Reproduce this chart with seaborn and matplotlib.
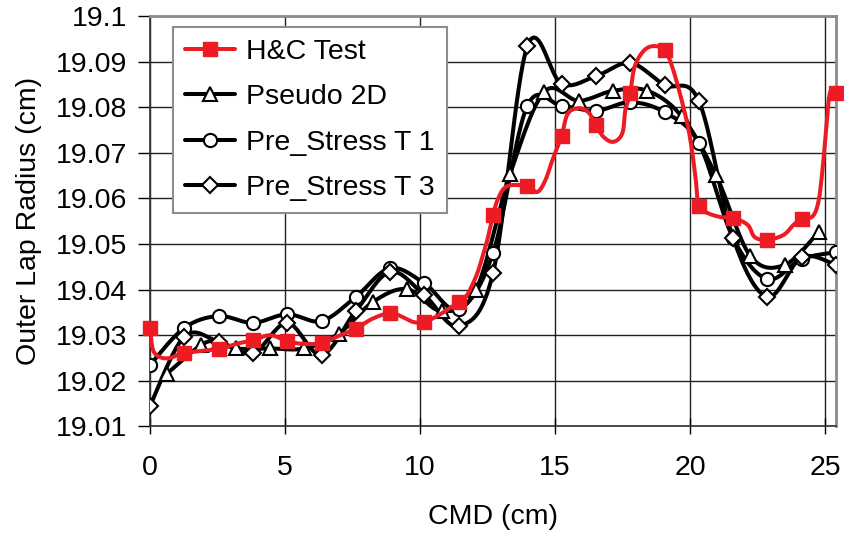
import numpy as np
import pandas as pd
import matplotlib
matplotlib.use("Agg")
import matplotlib.pyplot as plt
import seaborn as sns
from matplotlib.lines import Line2D

# ---------------- data ----------------
# H&C Test markers (every 1.27 cm)
hc_x = [0.0, 1.27, 2.54, 3.81, 5.08, 6.35, 7.62, 8.89, 10.16, 11.43, 12.70,
        13.97, 15.24, 16.51, 17.78, 19.05, 20.32, 21.59, 22.86, 24.13, 25.40]
hc_y = [19.0316, 19.0261, 19.0270, 19.0289, 19.0287, 19.0283, 19.0314, 19.0349,
        19.0329, 19.0373, 19.0563, 19.0627, 19.0737, 19.0761, 19.0831, 19.0925,
        19.0583, 19.0557, 19.0509, 19.0555, 19.0831]

# H&C Test measured trace (the red curve)
hc_line_x = [0.0, 0.11, 0.37, 0.74, 1.27, 2.54, 3.19, 3.81, 4.45, 5.08, 5.67,
             6.35, 6.97, 7.62, 8.23, 8.89, 9.27, 9.75, 10.16, 10.75, 11.43,
             11.71, 11.90, 12.12, 12.31, 12.49, 12.70, 12.90, 13.23, 13.97,
             14.34, 14.64, 14.90, 15.24, 15.46, 15.86, 16.23, 16.51, 16.79,
             17.16, 17.49, 17.60, 17.78, 17.94, 18.27, 18.64, 19.05, 19.35,
             19.76, 20.01, 20.20, 20.32, 20.64, 21.13, 21.59, 22.13, 22.39,
             22.86, 23.46, 23.83, 24.13, 24.54, 24.76, 24.91, 25.02, 25.13,
             25.24, 25.40]
hc_line_y = [19.0316, 19.0268, 19.0252, 19.0250, 19.0261, 19.0270, 19.0281,
             19.0289, 19.0300, 19.0287, 19.0281, 19.0283, 19.0298, 19.0314,
             19.0336, 19.0349, 19.0342, 19.0329, 19.0329, 19.0346, 19.0373,
             19.0386, 19.0406, 19.0436, 19.0472, 19.0509, 19.0563, 19.0601,
             19.0627, 19.0627, 19.0614, 19.0640, 19.0684, 19.0737, 19.0785,
             19.0798, 19.0789, 19.0761, 19.0735, 19.0724, 19.0743, 19.0794,
             19.0831, 19.0888, 19.0923, 19.0934, 19.0925, 19.0886, 19.0798,
             19.0728, 19.0645, 19.0583, 19.0568, 19.0559, 19.0557, 19.0542,
             19.0515, 19.0509, 19.0520, 19.0542, 19.0555, 19.0561, 19.0596,
             19.0669, 19.0743, 19.0816, 19.0838, 19.0831]

# Pseudo 2D
p2d_x = [0.635, 1.905, 2.54, 3.175, 4.445, 5.715, 6.985, 8.255, 9.525, 10.795,
         12.065, 13.335, 14.605, 15.875, 17.145, 18.415, 19.685, 20.955,
         22.225, 23.495, 24.765]
p2d_y = [19.0216, 19.0279, 19.0286, 19.0271, 19.0271, 19.0271, 19.0303,
         19.0373, 19.0401, 19.0353, 19.0399, 19.0654, 19.0834, 19.0814,
         19.0836, 19.0836, 19.0780, 19.0651, 19.0474, 19.0454, 19.0527]

# Pre_Stress T 1
t1_x = hc_x
t1_y = [19.0235, 19.0316, 19.0342, 19.0327, 19.0346, 19.0331, 19.0384,
        19.0447, 19.0414, 19.0357, 19.0480, 19.0803, 19.0803, 19.0792,
        19.0811, 19.0789, 19.0721, 19.0513, 19.0423, 19.0467, 19.0482]

# Pre_Stress T 3
t3_x = hc_x
t3_y = [19.0145, 19.0297, 19.0286, 19.0261, 19.0327, 19.0257, 19.0353,
        19.0439, 19.0388, 19.0320, 19.0436, 19.0934, 19.0851, 19.0868,
        19.0897, 19.0849, 19.0814, 19.0513, 19.0384, 19.0471, 19.0454]

labels = ["H&C Test", "Pseudo 2D", "Pre_Stress T 1", "Pre_Stress T 3"]
x_ticks = [0, 5, 10, 15, 20, 25]
y_ticks = [19.01, 19.02, 19.03, 19.04, 19.05, 19.06, 19.07, 19.08, 19.09, 19.1]


def smooth(x, y, n=16):
    """Excel-like smoothed line (Catmull-Rom Bezier) through the points."""
    pts = np.column_stack([x, y]).astype(float)
    P = np.vstack([pts[0], pts, pts[-1]])
    out = []
    t = np.linspace(0, 1, n, endpoint=False)[:, None]
    for i in range(1, len(P) - 2):
        p0, p1, p2, p3 = P[i - 1], P[i], P[i + 1], P[i + 2]
        c1 = p1 + (p2 - p0) / 6.0
        c2 = p2 - (p3 - p1) / 6.0
        b = ((1 - t) ** 3) * p1 + 3 * ((1 - t) ** 2) * t * c1 + \
            3 * (1 - t) * (t ** 2) * c2 + (t ** 3) * p2
        out.append(b)
    out.append(pts[-1:])
    a = np.vstack(out)
    return pd.DataFrame({"x": a[:, 0], "y": a[:, 1]})


# ---------------- figure ----------------
sns.set_theme(style="white")
plt.rcParams["font.family"] = ["Liberation Sans", "DejaVu Sans"]
plt.rcParams["text.color"] = "black"
plt.rcParams["axes.labelcolor"] = "black"

fig = plt.figure(figsize=(8.44, 5.37), dpi=100)
ax = fig.add_axes([150 / 844, 1 - 426.4 / 537, 686 / 844, 410.4 / 537])

RED = "#ED1C24"
LW = 2.9
MS = 9.5
FS = 20.5

black_series = [
    (p2d_x, p2d_y, "^", 10.5),
    (t1_x, t1_y, "o", 9.5),
    (t3_x, t3_y, "D", 8.0),
]
for xs, ys, mk, ms in black_series:
    sns.lineplot(data=smooth(xs, ys), x="x", y="y", sort=False, estimator=None,
                 color="black", lw=LW, ax=ax, zorder=3)
    ax.plot(xs, ys, ls="none", marker=mk, ms=ms, mfc="white", mec="black",
            mew=1.5, zorder=4)

sns.lineplot(data=smooth(hc_line_x, hc_line_y, n=6), x="x", y="y", sort=False,
             estimator=None, color=RED, lw=LW, ax=ax, zorder=5)
ax.plot(hc_x, hc_y, ls="none", marker="s", ms=MS, mfc=RED, mec=RED, zorder=6,
        clip_on=False)

ax.set_xlim(0, 25.4)
ax.set_ylim(19.01, 19.1)
ax.set_xticks(x_ticks)
ax.set_xticklabels([str(v) for v in x_ticks])
ax.set_yticks(y_ticks)
ax.set_yticklabels([f"{v:.2f}".rstrip("0") for v in y_ticks])

ax.grid(True, color="#202020", lw=1.0)
ax.set_axisbelow(True)
for s in ["top", "right"]:
    ax.spines[s].set_color("#8c8c8c")
    ax.spines[s].set_linewidth(2)
for s in ["left", "bottom"]:
    ax.spines[s].set_color("#303030")
    ax.spines[s].set_linewidth(1.2)

ax.tick_params(axis="both", which="major", labelsize=FS, colors="black",
               width=1.0)
ax.tick_params(axis="x", bottom=True, direction="inout", length=11, pad=15)
ax.tick_params(axis="y", left=True, direction="out", length=8.5, pad=8)

ax.set_xlabel("CMD (cm)", fontsize=FS, labelpad=17)
ax.set_ylabel("Outer Lap Radius (cm)", fontsize=FS, labelpad=10)

handles = [
    Line2D([], [], color=RED, lw=LW, marker="s", ms=MS, mfc=RED, mec=RED),
    Line2D([], [], color="black", lw=LW, marker="^", ms=10.5, mfc="white",
           mec="black", mew=1.5),
    Line2D([], [], color="black", lw=LW, marker="o", ms=9.5, mfc="white",
           mec="black", mew=1.5),
    Line2D([], [], color="black", lw=LW, marker="D", ms=8.0, mfc="white",
           mec="black", mew=1.5),
]
leg = ax.legend(handles, labels, loc="upper left",
                bbox_to_anchor=(23 / 686, 1 - 11 / 410.4), borderaxespad=0,
                fontsize=FS, frameon=True, fancybox=False, framealpha=1,
                edgecolor="#8c8c8c", handlelength=1.75, handletextpad=0.4,
                labelspacing=0.68, borderpad=0.42)
leg.get_frame().set_linewidth(1.5)
leg.set_zorder(10)

fig.savefig("out.png", dpi=100, facecolor="white")
